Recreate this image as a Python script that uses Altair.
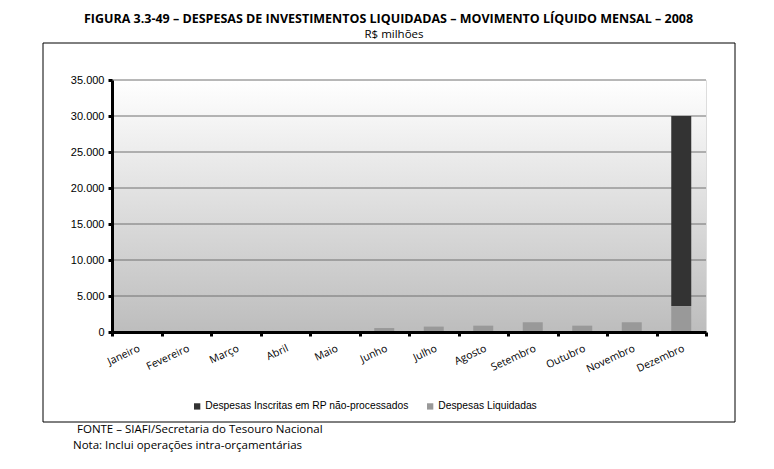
import altair as alt
import pandas as pd

meses = ["Janeiro", "Fevereiro", "Março", "Abril", "Maio", "Junho", "Julho",
         "Agosto", "Setembro", "Outubro", "Novembro", "Dezembro"]
liquidadas = [0, 0, 0, 0, 0, 550, 750, 880, 1350, 880, 1350, 3600]
rp_nao_proc = [0, 0, 0, 0, 0, 0, 0, 0, 0, 0, 0, 26400]
serie_rp = "Despesas Inscritas em RP não-processados"
serie_liq = "Despesas Liquidadas"
y_ticks = [0, 5000, 10000, 15000, 20000, 25000, 30000, 35000]

titulo = "FIGURA 3.3-49 – DESPESAS DE INVESTIMENTOS LIQUIDADAS – MOVIMENTO LÍQUIDO MENSAL – 2008"
subtitulo = "R$ milhões"
fonte = "FONTE – SIAFI/Secretaria do Tesouro Nacional"
nota = "Nota: Inclui operações intra-orçamentárias"

W, H = 594, 252

rows = []
for m, l, r in zip(meses, liquidadas, rp_nao_proc):
    rows.append({"mes": m, "serie": serie_liq, "valor": l, "ordem": 0})
    rows.append({"mes": m, "serie": serie_rp, "valor": r, "ordem": 1})
df = pd.DataFrame(rows)

one = pd.DataFrame({"a": [0]})

yscale = alt.Scale(domain=[0, 35000], nice=False)
yaxis = alt.Axis(values=y_ticks,
                 labelExpr="replace(format(datum.value, ','), ',', '.')",
                 labelFont="Liberation Sans", labelFontSize=11,
                 labelColor="black", labelPadding=4,
                 tickSize=4, tickWidth=3, tickColor="black",
                 domainColor="black", domainWidth=3, grid=False,
                 zindex=1, labelOverlap=False)

bg = alt.Chart(one).mark_rect(
    color=alt.LinearGradient(
        gradient="linear",
        stops=[alt.GradientStop(color="#ffffff", offset=0),
               alt.GradientStop(color="#bdbdbd", offset=1)],
        x1=0, x2=0, y1=0, y2=1),
).encode(x=alt.value(0), x2=alt.value(W), y=alt.value(0), y2=alt.value(H))

grid = alt.Chart(pd.DataFrame({"v": y_ticks[1:]})).mark_rule(
    color="#707070", strokeWidth=1).encode(
    y=alt.Y("v:Q", scale=yscale, axis=yaxis, title=None),
    x=alt.value(0), x2=alt.value(W))

border = alt.Chart(one).mark_rect(fill=None, stroke="black", strokeWidth=1).encode(
    x=alt.value(-69), x2=alt.value(623), y=alt.value(-37), y2=alt.value(342))

bars = alt.Chart(df).mark_bar(size=20).encode(
    x=alt.X("mes:N", sort=meses, title=None,
            scale=alt.Scale(paddingInner=0, paddingOuter=0),
            axis=alt.Axis(labelAngle=-25, labelAlign="right", labelBaseline="top",
                          labelPadding=7, labelFont="Open Sans", labelFontSize=10.5,
                          labelColor="black", tickBand="extent", tickSize=4,
                          tickWidth=3, tickColor="black", domainColor="black",
                          domainWidth=3, grid=False, zindex=1,
                          labelOverlap=False)),
    y=alt.Y("valor:Q", stack="zero", title=None, scale=yscale, axis=yaxis),
    color=alt.Color("serie:N",
                    scale=alt.Scale(domain=[serie_rp, serie_liq],
                                    range=["#333333", "#999999"]),
                    legend=alt.Legend(title=None, orient="none", legendX=80,
                                      legendY=321, direction="horizontal",
                                      symbolType="square", symbolSize=40,
                                      symbolStrokeWidth=0, labelFontSize=10.3,
                                      labelFont="Liberation Sans", labelLimit=400,
                                      labelColor="black", columnPadding=16,
                                      labelOffset=3)),
    order=alt.Order("ordem:Q"),
)

def txt(s, x, y, size=11, weight="normal", align="center"):
    return alt.Chart(one).mark_text(text=s, font="Open Sans", fontSize=size,
                                    fontWeight=weight, align=align,
                                    baseline="middle", color="black").encode(
        x=alt.value(x), y=alt.value(y))

texts = (txt(titulo, 276.5, -61, 12.5, "bold") + txt(subtitulo, 282, -45, 11.5) +
         txt(fonte, -35, 350, 11.5, "normal", "left") +
         txt(nota, -39, 366, 11.5, "normal", "left"))

chart = alt.layer(bg, grid, bars, border, texts).properties(
    width=W, height=H,
    autosize=alt.AutoSizeParams(type="none"),
    padding={"left": 112, "top": 80, "right": 68, "bottom": 137},
).configure_view(stroke=None).configure(background="white")

chart.save("out.html", embed_options={"renderer": "svg", "actions": False})
